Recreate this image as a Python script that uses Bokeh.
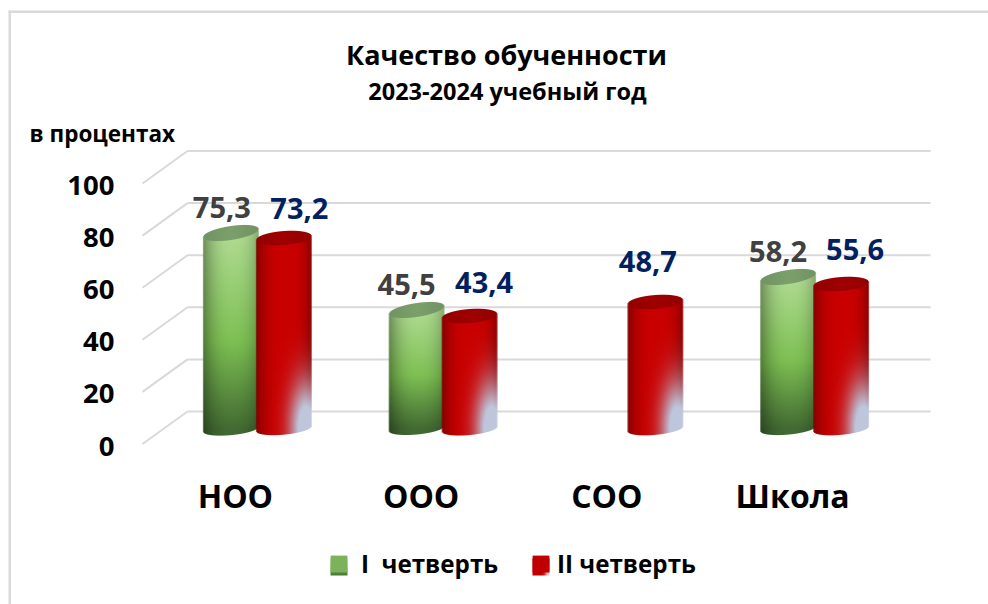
import numpy as np
from bokeh.embed import file_html
from bokeh.resources import INLINE
from bokeh.plotting import figure
from bokeh.models import Range1d, FixedTicker, Label, Legend, LegendItem, BoxAnnotation, ColumnDataSource
from bokeh.core.properties import value

categories = ["НОО", "ООО", "СОО", "Школа"]
series_names = ["I\u00a0\u00a0четверть", "II четверть"]
q1_values = [75.3, 45.5, None, 58.2]
q2_values = [73.2, 43.4, 48.7, 55.6]
y_ticks = [0, 20, 40, 60, 80, 100]
title_text = "Качество обученности"
subtitle_text = "2023-2024 учебный год"
unit_text = "в процентах"

FONT = "Open Sans"
PX_PER_UNIT = 2.605
PX_PER_CAT = 185.75
X0, Y0 = 142, 445.5          # page position of the tick-label origin
W, H = 988, 604


def xd(page_x):
    return (page_x - X0) / PX_PER_CAT


def yd(page_y):
    return (Y0 - page_y) / PX_PER_UNIT


p = figure(width=W, height=H, output_backend="svg", toolbar_location=None,
           x_range=Range1d(xd(0), xd(W)), y_range=Range1d(yd(H), yd(0)),
           min_border_left=0, min_border_right=0, min_border_top=0, min_border_bottom=0)
p.outline_line_color = None
p.background_fill_color = "white"
p.border_fill_color = "white"
p.xgrid.visible = False
p.ygrid.visible = False

# axes sit inside the full-page frame
p.xaxis.fixed_location = yd(450)
p.xaxis.ticker = FixedTicker(ticks=[i + 0.5 for i in range(len(categories))])
p.xaxis.major_label_overrides = {i + 0.5: c for i, c in enumerate(categories)}
p.xaxis.major_label_text_font = FONT
p.xaxis.major_label_text_font_style = "bold"
p.xaxis.major_label_text_font_size = "32px"
p.xaxis.major_label_text_color = "#000000"
p.xaxis.major_label_standoff = 17
p.xaxis.axis_line_color = None
p.xaxis.major_tick_line_color = None
p.xaxis.minor_tick_line_color = None

p.yaxis.fixed_location = 0
p.yaxis.ticker = FixedTicker(ticks=y_ticks)
p.yaxis.major_label_text_font = FONT
p.yaxis.major_label_text_font_style = "bold"
p.yaxis.major_label_text_font_size = "27.5px"
p.yaxis.major_label_text_color = "#000000"
p.yaxis.major_label_standoff = 22
p.yaxis.axis_line_color = None
p.yaxis.major_tick_line_color = None
p.yaxis.minor_tick_line_color = None

# 3D walls: back gridlines and side diagonals
DEPTH_X = xd(187)
FRONT_DY = 2 / PX_PER_UNIT
DEPTH_Y = 34.5 / PX_PER_UNIT
GRID = "#d9d9d9"
GRID_RIGHT = xd(930)
ticks = np.array(y_ticks, dtype=float)
p.segment(x0=[DEPTH_X] * len(ticks), y0=ticks + DEPTH_Y, x1=[GRID_RIGHT] * len(ticks), y1=ticks + DEPTH_Y,
          line_color=GRID, line_width=2)
p.segment(x0=[0.0] * len(ticks), y0=ticks + FRONT_DY, x1=[DEPTH_X] * len(ticks), y1=ticks + DEPTH_Y,
          line_color=GRID, line_width=2)

# cylinders
BAR_DX = xd(164.5)           # shift of the bar plane
BAR_DY = 17 / PX_PER_UNIT
BAR_W_PX = 55.5
PAD = 12


def cylinder(val, kind):
    height_px = val * PX_PER_UNIT
    nx = int(round(BAR_W_PX)) + 2
    ny = int(round(height_px)) + 2 * PAD
    xs = (np.arange(nx) + 0.5 - nx / 2) / (BAR_W_PX / 2)
    ys = np.arange(ny) + 0.5           # downward, from image top
    U, Y = np.meshgrid(xs, ys)
    top_y, bot_y = float(PAD), float(PAD) + height_px
    root = np.sqrt(np.clip(1 - U ** 2, 0, 1))
    tilt_top = 4.0 if kind == 0 else 2.0
    tilt_bot = 2.5
    semi_top, semi_bot = 7.0, 6.0
    top_edge = top_y - tilt_top * U - semi_top * root
    top_face_edge = top_y - tilt_top * U + semi_top * root
    bot_edge = bot_y - tilt_bot * U + semi_bot * root
    alpha = (np.clip(Y - top_edge + 0.5, 0, 1) * np.clip(bot_edge - Y + 0.5, 0, 1)
             * np.clip((1 - np.abs(U)) * BAR_W_PX / 2 + 0.5, 0, 1))
    t = np.clip((Y - top_y) / max(height_px, 1), 0, 1)
    edge = np.abs(U - 0.08) / 1.08
    if kind == 0:
        stops_t = [0.0, 0.55, 1.0]
        body = np.stack([np.interp(t, stops_t, c) for c in ([176, 126, 66], [220, 192, 106], [146, 84, 50])], -1)
        shade = 1 - 0.36 * edge ** 2.5
        face = np.array([124, 160, 108], dtype=float)
    else:
        body = np.ones(U.shape + (3,)) * np.array([202, 0, 0], dtype=float)
        shade = 1 - np.where(U > 0, 0.5, 0.35) * edge ** 3
        face = np.array([160, 0, 0], dtype=float)
    rgb = body * shade[..., None]
    if kind == 1:
        r2 = ((U - 0.8) / 0.75) ** 2 + ((Y - bot_y) / 60) ** 2
        glow = np.clip(np.exp(-1.6 * r2) * 1.25, 0, 1)[..., None]
        rgb = rgb * (1 - glow) + np.array([190, 198, 220.0]) * glow
    on_face = np.clip(top_face_edge - Y + 0.5, 0, 1)[..., None]
    rgb = rgb * (1 - on_face) + face * (0.92 + 0.08 * (1 - np.abs(U)))[..., None] * on_face
    img = np.zeros((ny, nx), dtype=np.uint32)
    view = img.view(dtype=np.uint8).reshape((ny, nx, 4))
    view[..., 0] = np.clip(rgb[..., 0], 0, 255)
    view[..., 1] = np.clip(rgb[..., 1], 0, 255)
    view[..., 2] = np.clip(rgb[..., 2], 0, 255)
    view[..., 3] = (alpha * 255).astype(np.uint8)
    return img[::-1], nx / PX_PER_CAT, ny / PX_PER_UNIT


series = [q1_values, q2_values]
base_colors = ["#7cb25a", "#c00000"]
bar_offsets_px = [-27.0, 26.0]
renderers = []
for k, vals in enumerate(series):
    xs = [i + 0.5 + BAR_DX + bar_offsets_px[k] / PX_PER_CAT for i in range(len(categories))]
    tops = [np.nan if v is None else v + BAR_DY for v in vals]
    src = ColumnDataSource(dict(x=xs, top=tops, bottom=[BAR_DY] * len(xs)))
    r = p.vbar(x="x", top="top", bottom="bottom", width=44 / PX_PER_CAT, source=src,
               fill_color=base_colors[k], line_color=None)
    renderers.append(r)
    for x, v in zip(xs, vals):
        if v is None:
            continue
        img, dw, dh = cylinder(v, k)
        p.image_rgba(image=[img], x=x - dw / 2, y=BAR_DY - PAD / PX_PER_UNIT, dw=dw, dh=dh)

# value labels
LABEL_OFFSETS = [
    [(-9, 25.5), (-10, 25.5), (0, 0), (-10, 25.5)],
    [(15.5, 29.5), (14.5, 33), (-7.5, 41), (14, 35)],
]
LABEL_COLORS = ["#404040", "#002060"]
for k, vals in enumerate(series):
    for i, v in enumerate(vals):
        if v is None:
            continue
        dx, dy = LABEL_OFFSETS[k][i]
        x = i + 0.5 + BAR_DX + bar_offsets_px[k] / PX_PER_CAT + dx / PX_PER_CAT
        y = v + BAR_DY + dy / PX_PER_UNIT
        p.text(x=[x], y=[y], text=[f"{v:.1f}".replace(".", ",")], text_font=value(FONT),
               text_font_style="bold", text_font_size="29px",
               text_color=LABEL_COLORS[k], text_align="center", text_baseline="middle")

# titles
for txt, px, py, size in [(title_text, 506, 54, "27px"), (subtitle_text, 507, 90, "23.5px")]:
    p.add_layout(Label(x=xd(px), y=yd(py), text=txt, text_font=FONT, text_font_style="bold",
                       text_font_size=size, text_color="#000000", text_baseline="middle", text_align="center"))
p.add_layout(Label(x=xd(29), y=yd(133), text=unit_text, text_font=FONT, text_font_style="bold",
                   text_font_size="22.5px", text_color="#000000", text_baseline="middle", text_align="left"))

# chart frame edges
p.add_layout(BoxAnnotation(left=xd(8), right=xd(10.5), top=yd(10), bottom=yd(H), fill_color=GRID,
                           fill_alpha=1, line_color=None))
p.add_layout(BoxAnnotation(left=xd(8), right=xd(W), top=yd(10), bottom=yd(12.5), fill_color=GRID,
                           fill_alpha=1, line_color=None))

for name, r, left, standoff in zip(series_names, renderers, [328, 530], [12, 6]):
    legend = Legend(items=[LegendItem(label=name, renderers=[r])],
                    orientation="horizontal", location=(left, H - 580), margin=0, padding=0,
                    glyph_width=21, glyph_height=21, label_standoff=standoff, border_line_color=None,
                    background_fill_alpha=0, label_text_font=FONT, label_text_font_style="bold",
                    label_text_font_size="24.2px", label_text_color="#000000")
    p.add_layout(legend, "center")


# gradient faces of the legend keys, drawn over the flat keys
def swatch(kind):
    n = 17
    v, u = np.meshgrid(np.linspace(0, 1, n), np.linspace(0, 1, n), indexing="ij")
    if kind == 0:
        rgb = np.stack([np.interp(v, [0, 1], c) for c in ([170, 74], [215, 122], [140, 52])], -1)
    else:
        rgb = np.ones((n, n, 3)) * np.array([192.0, 0, 0])
        g = np.exp(-(((u - 0.95) / 0.2) ** 2 + ((v - 0.95) / 0.2) ** 2))[..., None]
        rgb = rgb * (1 - g) + np.array([225.0, 215, 225]) * g
    img = np.zeros((n, n), dtype=np.uint32)
    view = img.view(dtype=np.uint8).reshape((n, n, 4))
    view[..., :3] = np.clip(rgb, 0, 255).astype(np.uint8)
    view[..., 3] = 255
    return img[::-1]


for k, px in enumerate([330, 532]):
    p.image_rgba(image=[swatch(k)], x=xd(px), y=yd(575), dw=17 / PX_PER_CAT, dh=17 / PX_PER_UNIT, level="overlay")

open("out.html", "w").write(file_html(p, INLINE))
